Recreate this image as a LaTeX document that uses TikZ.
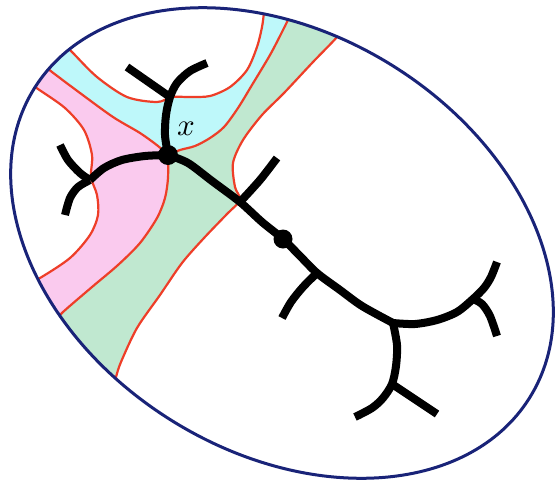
\documentclass[tikz,border=0pt]{standalone}
\definecolor{cyanfill}{RGB}{190,248,250}
\definecolor{pinkfill}{RGB}{250,202,238}
\definecolor{greenfill}{RGB}{192,232,208}
\definecolor{redline}{RGB}{238,62,40}
\definecolor{navyline}{RGB}{25,35,120}
\begin{document}
\begin{tikzpicture}[x=1pt,y=-1pt,
  boundary/.style={draw=redline,line width=2.2pt},
  branch/.style={draw=black,line width=8pt,line join=round},
  bigdot/.style={circle,fill=black,inner sep=0pt,minimum size=20pt},
  rim/.style={draw=navyline,line width=3pt}]
\useasboundingbox (0,0) rectangle (555,480);
\begin{scope}
\clip[rotate around={-32:(282,243)}] (282,243) ellipse [x radius=292pt,y radius=209pt];
% green region (left of C3)
\fill[greenfill] plot[smooth] coordinates {(343,26) (337,37) (313,62) (284,93) (262,115) (243,140) (233,163) (235,187) (240,200) (227,214) (204,238) (182,263) (160,295) (137,328) (121,362) (116,377) (112,392)}
  -- (-50,400) -- (-50,-50) -- (343,-50) -- cycle;
% pink region (left of C2 left part and C5)
\fill[pinkfill] plot[smooth] coordinates {(42,64) (52,72) (80,93) (113,117) (140,133) (158,146) (168,155)}
  -- plot[smooth] coordinates {(168,155) (168,178) (165,198) (157,218) (140,243) (118,265) (92,287) (63,312) (52,324)}
  -- (-50,330) -- (-50,60) -- cycle;
% cyan region (above C2)
\fill[cyanfill] plot[smooth] coordinates {(42,64) (52,72) (80,93) (113,117) (140,133) (158,146) (168,155)}
  -- plot[smooth] coordinates {(168,155) (180,150) (195,146) (210,138) (224,127) (238,108) (252,85) (270,55) (283,30) (289,17) (292,2)}
  -- (292,-50) -- (-50,-50) -- (-50,64) -- cycle;
% white regions
\fill[white] plot[smooth] coordinates {(65,45) (73,53) (97,77) (127,97) (157,102) (172,97) (190,97) (210,96) (230,87) (247,70) (257,47) (262,27) (264,12) (265,0)}
  -- (265,-50) -- (-50,-50) -- (-50,45) -- cycle;
\fill[white] plot[smooth] coordinates {(30,83) (38,89) (65,108) (84,130) (92,155) (91,177) (97,195) (98,215) (90,235) (70,258) (40,278) (28,283)}
  -- (-50,283) -- (-50,83) -- cycle;
% red boundaries
\draw[boundary] plot[smooth] coordinates {(65,45) (73,53) (97,77) (127,97) (157,102) (172,97) (190,97) (210,96) (230,87) (247,70) (257,47) (262,27) (264,12) (265,0)};
\draw[boundary] plot[smooth] coordinates {(42,64) (52,72) (80,93) (113,117) (140,133) (158,146) (168,155)};
\draw[boundary] plot[smooth] coordinates {(168,155) (180,150) (195,146) (210,138) (224,127) (238,108) (252,85) (270,55) (283,30) (289,17) (292,2)};
\draw[boundary] plot[smooth] coordinates {(343,26) (337,37) (313,62) (284,93) (262,115) (243,140) (233,163) (235,187) (240,200) (227,214) (204,238) (182,263) (160,295) (137,328) (121,362) (116,377) (112,392)};
\draw[boundary] plot[smooth] coordinates {(30,83) (38,89) (65,108) (84,130) (92,155) (91,177) (97,195) (98,215) (90,235) (70,258) (40,278) (28,283)};
\draw[boundary] plot[smooth] coordinates {(168,155) (168,178) (165,198) (157,218) (140,243) (118,265) (92,287) (63,312) (52,324)};
\end{scope}
% outer ellipse
\draw[rim,rotate around={-32:(282,243)}] (282,243) ellipse [x radius=292pt,y radius=209pt];
% tree junctions
\coordinate (V) at (168,155);
\coordinate (J1) at (170,97);
\coordinate (J2) at (90,180);
\coordinate (T1) at (240,202);
\coordinate (D) at (283,239);
\coordinate (J3) at (317,273);
\coordinate (J4) at (393,323);
\coordinate (J5) at (473,299);
\coordinate (J6) at (392,384);
% tree branches
\draw[branch] plot[smooth] coordinates {(V) (165,135) (166,115) (J1) (177,83) (190,71) (207,63)};
\draw[branch] (J1) -- (127,67);
\draw[branch] plot[smooth] coordinates {(V) (145,156) (122,160) (104,168) (J2)};
\draw[branch] plot[smooth] coordinates {(J2) (80,173) (68,160) (60,145)};
\draw[branch] plot[smooth] coordinates {(J2) (78,187) (70,198) (65,215)};
\draw[branch] plot[smooth] coordinates {(V) (188,163) (212,181) (T1) (262,222) (D) (300,256) (J3) (340,290) (362,306) (J4)};
\draw[branch] plot[smooth] coordinates {(T1) (260,180) (277,158)};
\draw[branch] plot[smooth] coordinates {(J3) (303,287) (291,302) (282,318)};
\draw[branch] plot[smooth] coordinates {(J4) (415,324) (437,320) (457,312) (J5) (484,288) (491,277) (497,262)};
\draw[branch] plot[smooth] coordinates {(J5) (482,304) (490,316) (497,336)};
\draw[branch] plot[smooth] coordinates {(J4) (397,345) (396,366) (J6) (383,398) (372,408) (355,417)};
\draw[branch] (J6) -- (437,414);
\node[bigdot] (vdot) at (V) {};
\node[bigdot,minimum size=19pt] (ddot) at (D) {};
\node[scale=3.1] (xlabel) at (186,129) {$x$};
\end{tikzpicture}
\end{document}
